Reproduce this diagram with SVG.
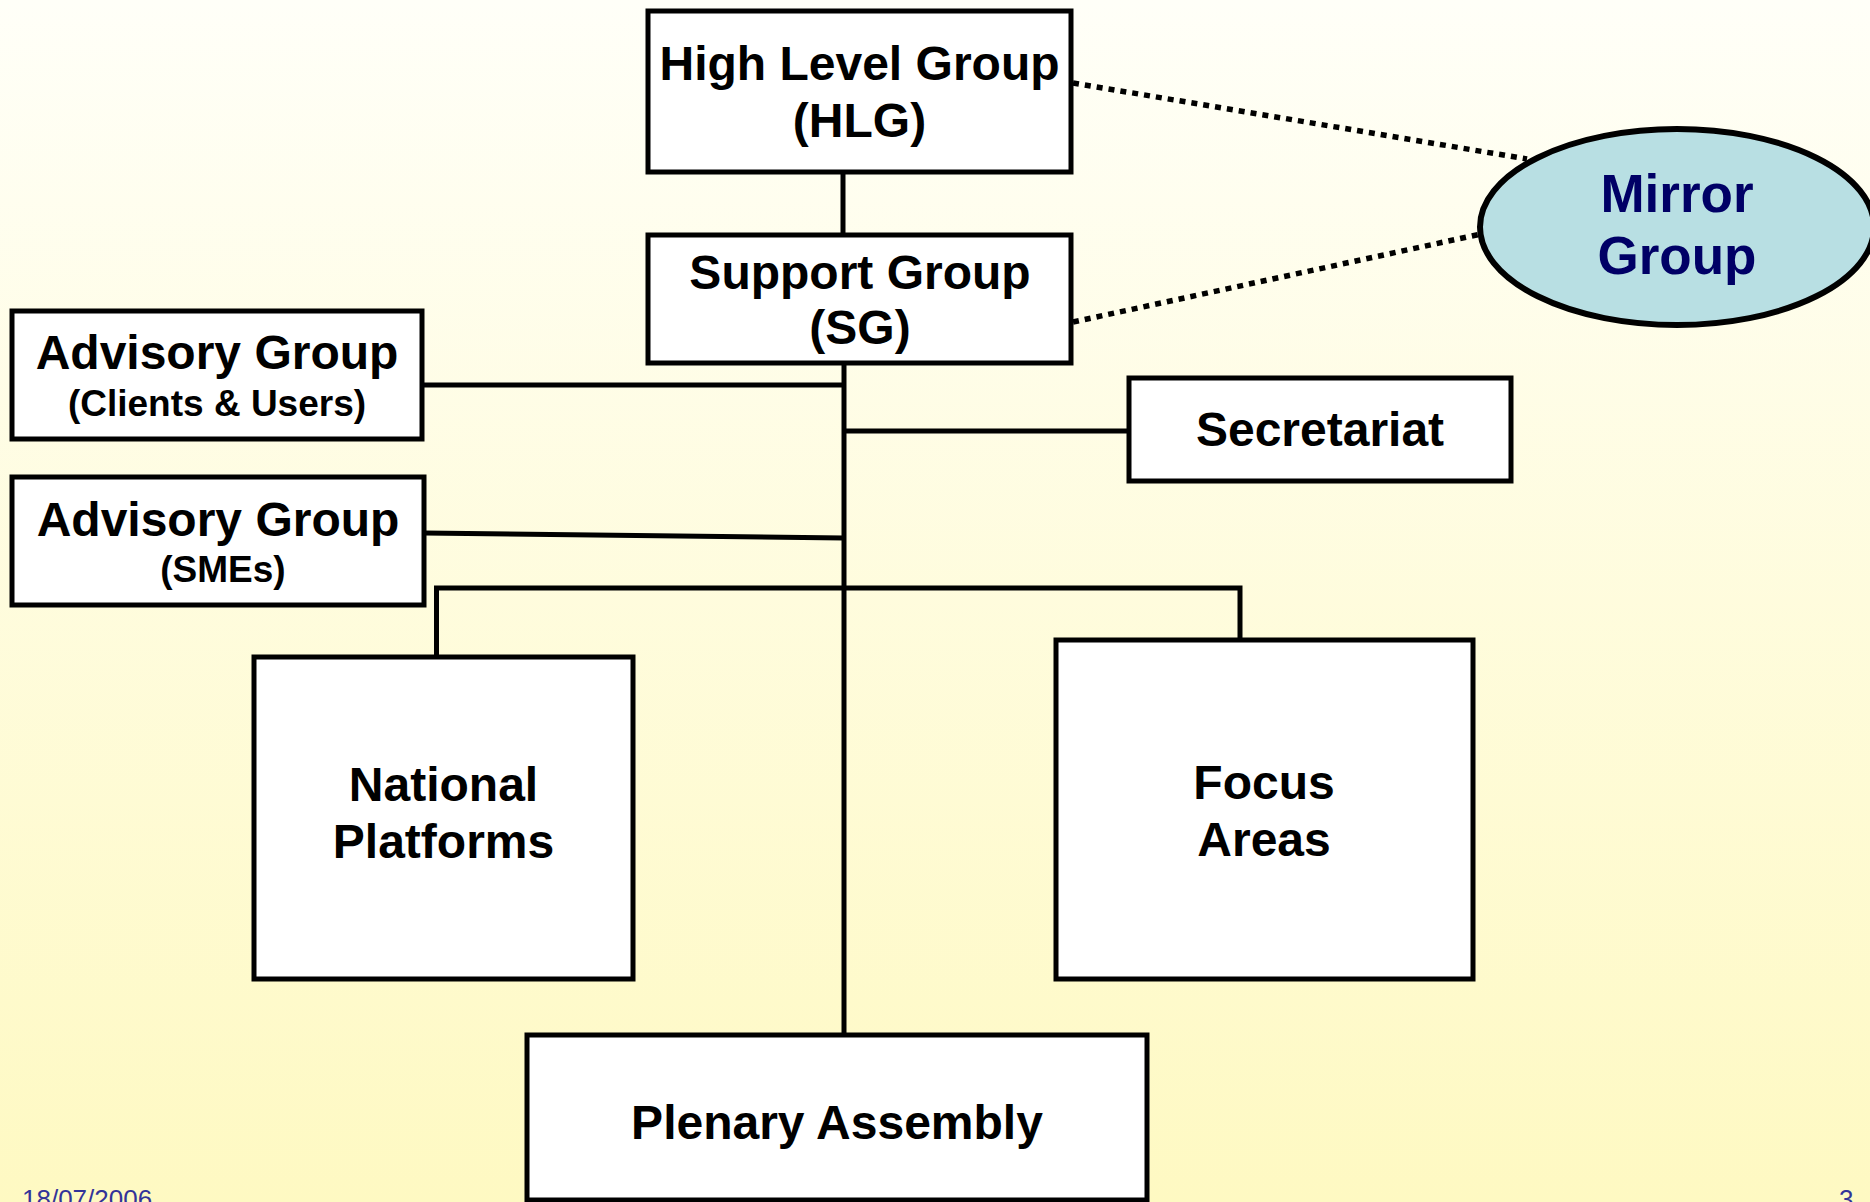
<svg xmlns="http://www.w3.org/2000/svg" width="1870" height="1202" viewBox="0 0 1870 1202">
<defs>
<linearGradient id="bg" x1="0" y1="0" x2="0" y2="1">
<stop offset="0" stop-color="#FFFFF8"/>
<stop offset="1" stop-color="#FEF9C2"/>
</linearGradient>
<style>
.box{fill:#FFFFFF;stroke:#000000;stroke-width:5}
.ln{stroke:#000000;stroke-width:5;fill:none}
.dot{stroke:#000000;stroke-width:5.5;fill:none;stroke-dasharray:6 6}
.t{font-family:"Liberation Sans",Arial,sans-serif;font-weight:bold;font-size:48px;fill:#000000;text-anchor:middle}
.s{font-family:"Liberation Sans",Arial,sans-serif;font-weight:bold;font-size:37px;fill:#000000;text-anchor:middle}
.m{font-family:"Liberation Sans",Arial,sans-serif;font-weight:bold;font-size:53px;fill:#000066;text-anchor:middle}
.f{font-family:"Liberation Sans",Arial,sans-serif;font-size:26px;fill:#333399}
</style>
</defs>
<rect x="0" y="0" width="1870" height="1202" fill="url(#bg)"/>
<g id="connectors">
<line class="ln" x1="843" y1="172" x2="843" y2="235"/>
<line class="ln" x1="844" y1="363" x2="844" y2="1035"/>
<line class="ln" x1="422" y1="385" x2="844" y2="385"/>
<line class="ln" x1="844" y1="431" x2="1129" y2="431"/>
<line class="ln" x1="424" y1="533" x2="844" y2="538"/>
<polyline class="ln" points="436.5,657 436.5,588 1240,588 1240,640"/>
<line class="dot" x1="1073" y1="83" x2="1527" y2="159"/>
<line class="dot" x1="1073" y1="322" x2="1481" y2="234"/>
</g>
<g id="hlg">
<rect class="box" x="648" y="11" width="423" height="161"/>
<text class="t" x="859.5" y="80">High Level Group</text>
<text class="t" x="859.5" y="137">(HLG)</text>
</g>
<g id="sg">
<rect class="box" x="648" y="235" width="423" height="128"/>
<text class="t" x="860" y="289">Support Group</text>
<text class="t" x="860" y="344">(SG)</text>
</g>
<g id="mirror">
<ellipse cx="1677" cy="227" rx="197" ry="98" fill="#B8DFE3" stroke="#000000" stroke-width="6"/>
<text class="m" x="1677" y="212">Mirror</text>
<text class="m" x="1677" y="274">Group</text>
</g>
<g id="advisory-clients">
<rect class="box" x="12" y="311" width="410" height="128"/>
<text class="t" x="217" y="369">Advisory Group</text>
<text class="s" x="217" y="416">(Clients &amp; Users)</text>
</g>
<g id="advisory-smes">
<rect class="box" x="12" y="477" width="412" height="128"/>
<text class="t" x="218" y="536">Advisory Group</text>
<text class="s" x="223" y="582">(SMEs)</text>
</g>
<g id="secretariat">
<rect class="box" x="1129" y="378" width="382" height="103"/>
<text class="t" x="1320" y="446">Secretariat</text>
</g>
<g id="national">
<rect class="box" x="254" y="657" width="379" height="322"/>
<text class="t" x="443.5" y="801">National</text>
<text class="t" x="443.5" y="858">Platforms</text>
</g>
<g id="focus">
<rect class="box" x="1056" y="640" width="417" height="339"/>
<text class="t" x="1264" y="799">Focus</text>
<text class="t" x="1264" y="856">Areas</text>
</g>
<g id="plenary">
<rect class="box" x="527" y="1035" width="620" height="165"/>
<text class="t" x="837" y="1139">Plenary Assembly</text>
</g>
<g id="footer">
<text class="f" x="22" y="1208">18/07/2006</text>
<text class="f" x="1839" y="1208">3</text>
</g>
</svg>
